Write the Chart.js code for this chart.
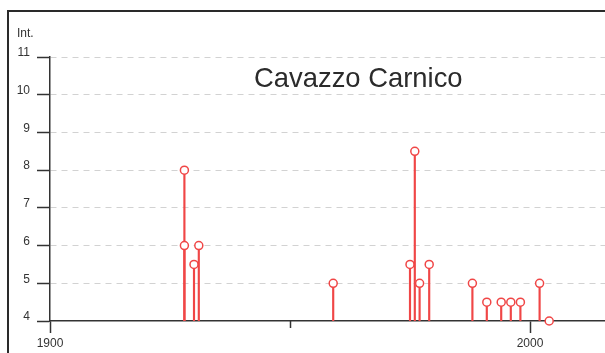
<!DOCTYPE html>
<html>
<head>
<meta charset="utf-8">
<script src="https://cdn.jsdelivr.net/npm/chart.js@4"></script>
<style>
  html, body { margin: 0; padding: 0; background: #fff; overflow: hidden; }
  canvas { display: block; }
</style>
</head>
<body>
<canvas id="c" width="605" height="353"></canvas>
<script>
// Felt earthquakes: year and macroseismic intensity
const eventYears  = [1928, 1928, 1930, 1931, 1959, 1975, 1976, 1977, 1979, 1988, 1991, 1994, 1996, 1998, 2002, 2004];
const intensities = [8,    6,    5.5,  6,    5,    5.5,  8.5,  5,    5.5,  5,    4.5,  4.5,  4.5,  4.5,  5,    4];

// Axis ticks
const yearTicks = [1900, 1950, 2000];
const labelledYears = [1900, 2000];
const intensityTicks = [4, 5, 6, 7, 8, 9, 10, 11];

const placeName = 'Cavazzo Carnico';
const axisLabel = 'Int.';

const RED = 'rgb(240, 70, 70)';
const INK = '#333333';
const FONT = 'Liberation Sans';

const tickValue = c => (c && c.tick ? c.tick.value : undefined);

// Frame, minor year tick and free-standing labels
const decor = {
  id: 'decor',
  beforeDraw(chart) {
    const ctx = chart.ctx;
    ctx.save();
    ctx.strokeStyle = '#2a2a2a';
    ctx.lineWidth = 2;
    ctx.beginPath();
    ctx.moveTo(8, chart.height);
    ctx.lineTo(8, 11);
    ctx.lineTo(chart.width, 11);
    ctx.stroke();
    ctx.restore();
  },
  afterDraw(chart) {
    const { ctx, scales: { x, y } } = chart;
    ctx.save();
    ctx.strokeStyle = INK;
    ctx.lineWidth = 1.5;
    yearTicks.filter(v => !labelledYears.includes(v)).forEach(v => {
      const px = Math.round(x.getPixelForValue(v)) + 0.5;
      ctx.beginPath();
      ctx.moveTo(px, y.bottom);
      ctx.lineTo(px, y.bottom + 7);
      ctx.stroke();
    });
    ctx.fillStyle = INK;
    ctx.textBaseline = 'alphabetic';
    ctx.textAlign = 'left';
    ctx.font = '12px "' + FONT + '"';
    ctx.fillText(axisLabel, 17, 37);
    ctx.fillStyle = '#2b2b2b';
    ctx.font = '27.4px "' + FONT + '"';
    ctx.fillText(placeName, 254, 87);
    ctx.restore();
  }
};

new Chart(document.getElementById('c'), {
  type: 'scatter',
  data: {
    datasets: [
      {
        type: 'bar',
        order: 1,
        data: eventYears.map((yr, i) => ({ x: yr, y: [intensityTicks[0], intensities[i]] })),
        backgroundColor: RED,
        borderWidth: 0,
        barThickness: 1.5
      },
      {
        type: 'scatter',
        order: 0,
        data: eventYears.map((yr, i) => ({ x: yr, y: intensities[i] })),
        pointRadius: 4,
        pointBorderWidth: 1.5,
        pointBorderColor: RED,
        pointBackgroundColor: '#ffffff',
        clip: false
      }
    ]
  },
  options: {
    responsive: false,
    animation: false,
    events: [],
    layout: { autoPadding: false, padding: { top: 57, right: 0, left: 0, bottom: 0 } },
    plugins: {
      legend: { display: false },
      tooltip: { enabled: false },
      title: { display: false }
    },
    scales: {
      x: {
        type: 'linear',
        min: 1900,
        max: 2015.625,
        offset: false,
        afterBuildTicks: s => { s.ticks = yearTicks.map(v => ({ value: v })); },
        afterFit: s => { s.height = 32; },
        ticks: {
          autoSkip: false,
          maxRotation: 0,
          padding: 3,
          color: INK,
          font: { family: FONT, size: 12 },
          callback: v => labelledYears.includes(v) ? String(v) : ''
        },
        grid: {
          offset: false,
          drawOnChartArea: false,
          drawTicks: true,
          tickLength: 12,
          tickWidth: 1.5,
          tickColor: c => labelledYears.includes(tickValue(c)) ? INK : 'transparent'
        },
        border: { display: true, color: INK, width: 1.5 }
      },
      y: {
        type: 'linear',
        min: 4,
        max: 11,
        afterBuildTicks: s => { s.ticks = intensityTicks.map(v => ({ value: v })); },
        afterFit: s => { s.width = 50; },
        ticks: {
          padding: 7,
          labelOffset: -4,
          color: INK,
          font: { family: FONT, size: 12 },
          callback: v => String(v)
        },
        grid: {
          offset: false,
          color: c => tickValue(c) === intensityTicks[0] ? 'transparent' : '#d2d2d2',
          lineWidth: 1,
          tickLength: 13,
          tickWidth: 1.5,
          tickColor: INK,
          tickBorderDash: []
        },
        border: { display: true, color: INK, width: 1.5, dash: [6, 5] }
      }
    }
  },
  plugins: [decor]
});
</script>
</body>
</html>
